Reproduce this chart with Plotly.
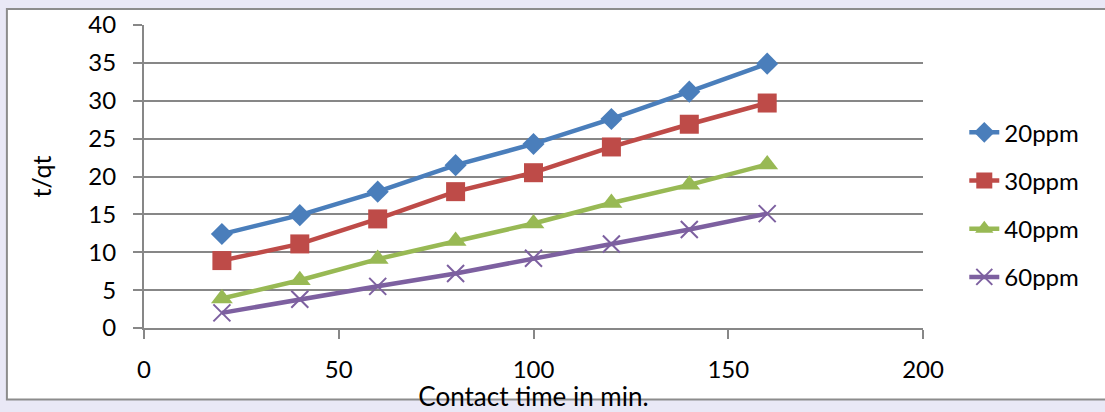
import plotly.graph_objects as go

time_min = [20, 40, 60, 80, 100, 120, 140, 160]
ppm20 = [12.4, 14.9, 18.0, 21.5, 24.3, 27.6, 31.2, 34.9]
ppm30 = [8.9, 11.1, 14.4, 18.0, 20.5, 23.9, 26.9, 29.7]
ppm40 = [3.9, 6.3, 9.1, 11.5, 13.8, 16.5, 18.9, 21.6]
ppm60 = [2.0, 3.8, 5.5, 7.2, 9.2, 11.1, 13.0, 15.1]
series_names = ["20ppm", "30ppm", "40ppm", "60ppm"]

colors = ["#4A7EBB", "#BE4B48", "#98B954", "#7D60A0"]
symbols = ["diamond", "square", "triangle-up", "x-thin"]
sizes = [17, 19, 19, 17]

fig = go.Figure()
for i, (name, ys) in enumerate(zip(series_names, [ppm20, ppm30, ppm40, ppm60])):
    marker = dict(symbol=symbols[i], size=sizes[i], color=colors[i])
    if symbols[i] == "x-thin":
        marker["line"] = dict(color=colors[i], width=2)
    fig.add_trace(go.Scatter(
        x=time_min, y=ys, name=name, mode="lines+markers",
        line=dict(color=colors[i], width=4.5),
        marker=marker, legendgroup=name,
    ))

FONT = "Lato, 'Open Sans', sans-serif"
grid = "#878787"

# chart frame (white area with grey border) over light watermark background
fig.add_shape(type="rect", xref="paper", yref="paper",
              x0=-0.176, x1=1.25, y0=-0.2356, y1=1.0527,
              fillcolor="white", line=dict(color="#8c8c8c", width=2), layer="below")

fig.update_layout(
    width=1105, height=412,
    margin=dict(l=144, r=182, t=25, b=84),
    paper_bgcolor="#e9e8f6",
    plot_bgcolor="white",
    font=dict(family=FONT, size=24, color="black"),
    showlegend=True,
    legend=dict(x=1.053, xanchor="left", y=0.407, yanchor="middle",
                font=dict(size=24), bgcolor="rgba(0,0,0,0)",
                traceorder="grouped", tracegroupgap=14),
    xaxis=dict(range=[0, 200], tickvals=[0, 50, 100, 150, 200],
               showgrid=False, zeroline=False, automargin=False,
               showline=True, linecolor=grid, linewidth=2,
               ticks="outside", ticklen=9, tickcolor=grid, tickwidth=2,
               ticklabelstandoff=10,
               title=dict(text="Contact time in min.", standoff=0,
                          font=dict(size=26))),
    yaxis=dict(range=[0, 40], tickvals=[0, 5, 10, 15, 20, 25, 30, 35, 40],
               showgrid=True, gridcolor=grid, gridwidth=2,
               zeroline=False, automargin=False,
               showline=True, linecolor=grid, linewidth=2,
               ticks="outside", ticklen=9, tickcolor=grid, tickwidth=2,
               ticklabelstandoff=12,
               title=dict(text="t/qt", standoff=30, font=dict(size=25))),
)

fig.write_html("out.html", config={"displayModeBar": False},
               post_script="document.body.style.margin='0';document.body.style.overflow='hidden';")
